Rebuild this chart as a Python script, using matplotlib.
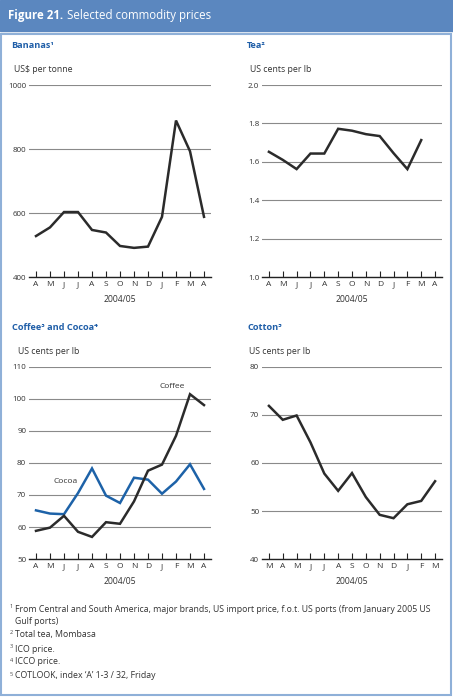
import matplotlib
matplotlib.use("Agg")
import matplotlib.pyplot as plt
from matplotlib.patches import Rectangle

plt.rcParams['font.family'] = ['Open Sans', 'DejaVu Sans']

# Дані
months_ban = ["A", "M", "J", "J", "A", "S", "O", "N", "D", "J", "F", "M", "A"]
bananas = [528, 555, 603, 603, 547, 539, 497, 491, 495, 588, 889, 793, 588]

months_tea = ["A", "M", "J", "J", "A", "S", "O", "N", "D", "J", "F", "M", "A"]
tea = [1.652, 1.61, 1.562, 1.643, 1.643, 1.772, 1.762, 1.744, 1.734, 1.645, 1.562, 1.713]

months_cof = ["A", "M", "J", "J", "A", "S", "O", "N", "D", "J", "F", "M", "A"]
coffee = [58.8, 59.8, 63.5, 58.5, 56.9, 61.5, 61.0, 68.0, 77.6, 79.5, 88.5, 101.5, 98.1]
cocoa = [65.2, 64.2, 64.0, 70.6, 78.3, 69.8, 67.5, 75.4, 74.8, 70.4, 74.2, 79.6, 71.9]

months_cot = ["M", "A", "M", "J", "J", "A", "S", "O", "N", "D", "J", "F", "M"]
cotton = [71.9, 69.0, 69.9, 64.3, 57.8, 54.2, 57.9, 52.9, 49.2, 48.5, 51.4, 52.1, 56.2]

footnotes = [
    ("1", "From Central and South America, major brands, US import price, f.o.t. US ports (from January 2005 US"),
    ("", "Gulf ports)"),
    ("2", "Total tea, Mombasa"),
    ("3", "ICO price."),
    ("4", "ICCO price."),
    ("5", "COTLOOK, index \u2018A\u2019 1-3 / 32, Friday"),
]

W, H = 453, 698
DARK = "#2b2b2b"
BLUE_LINE = "#1d62a8"
TITLE_BLUE = "#1f5ea8"
HEADER = "#5b87bf"
BORDER = "#8fb0d8"
TXT = "#333333"

fig = plt.figure(figsize=(W / 100, H / 100), dpi=100)


def fx(px):
    return px / W


def fy(py):
    return 1 - py / H


# Заголовок і рамка
fig.patches.append(Rectangle((0, fy(31)), 1, 31 / H, transform=fig.transFigure,
                             color=HEADER, zorder=0))
fig.patches.append(Rectangle((fx(1), fy(695)), fx(450), (695 - 33.5) / H,
                             transform=fig.transFigure, fill=False,
                             edgecolor=BORDER, linewidth=1.5, zorder=0))
fig.text(fx(8), fy(15), "Figure 21.", color="white", fontsize=8.3,
         fontweight="bold", va="center")
fig.text(fx(67), fy(15), "Selected commodity prices", color="white",
         fontsize=8.3, va="center")


def make_axes(left, right, top, bottom, ylim, yticks, ylabels, months):
    ax = fig.add_axes([fx(left), fy(bottom), fx(right - left), (bottom - top) / H])
    ax.set_ylim(*ylim)
    ax.set_xlim(-0.5, 12.5)
    ax.set_yticks(yticks)
    ax.set_yticklabels(ylabels)
    ax.set_xticks(range(len(months)))
    ax.set_xticklabels(months)
    for s in ["top", "right", "left"]:
        ax.spines[s].set_visible(False)
    ax.spines["bottom"].set_color("#222222")
    ax.spines["bottom"].set_linewidth(1.0)
    ax.tick_params(axis="y", length=0, pad=2, labelsize=5.8, colors=TXT)
    ax.tick_params(axis="x", direction="in", length=4, width=0.8,
                   color="#222222", pad=3, labelsize=6, labelcolor=TXT)
    ax.grid(axis="y", color="#8a8a8a", linewidth=0.8)
    ax.set_axisbelow(True)
    ax.set_xlabel("2004/05", fontsize=6.2, color=TXT, labelpad=5)
    ax.patch.set_alpha(0)
    return ax


# Банани
ax1 = make_axes(29, 211, 85, 277, (400, 1000), [400, 600, 800, 1000],
                ["400", "600", "800", "1000"], months_ban)
ax1.plot(range(len(bananas)), bananas, color=DARK, linewidth=1.8,
         solid_joinstyle="miter", clip_on=False)

# Чай
ax2 = make_axes(262, 442, 85, 277, (1.0, 2.0), [1.0, 1.2, 1.4, 1.6, 1.8, 2.0],
                ["1.0", "1.2", "1.4", "1.6", "1.8", "2.0"], months_tea)
ax2.plot(range(len(tea)), tea, color=DARK, linewidth=1.8,
         solid_joinstyle="miter", clip_on=False)

# Кава і какао
ax3 = make_axes(29, 211, 367, 559, (50, 110), [50, 60, 70, 80, 90, 100, 110],
                ["50", "60", "70", "80", "90", "100", "110"], months_cof)
ax3.plot(range(len(cocoa)), cocoa, color=BLUE_LINE, linewidth=1.8,
         solid_joinstyle="miter", clip_on=False)
ax3.plot(range(len(coffee)), coffee, color=DARK, linewidth=1.8,
         solid_joinstyle="miter", clip_on=False)
ax3.text(9.7, 103.8, "Coffee", fontsize=6, color=TXT, ha="center", va="center")
ax3.text(2.1, 74.3, "Cocoa", fontsize=6, color=TXT, ha="center", va="center")

# Бавовна
ax4 = make_axes(262, 442, 367, 559, (40, 80), [40, 50, 60, 70, 80],
                ["40", "50", "60", "70", "80"], months_cot)
ax4.plot(range(len(cotton)), cotton, color=DARK, linewidth=1.8,
         solid_joinstyle="miter", clip_on=False)

# Назви панелей та одиниці
title_kw = dict(fontsize=6.6, fontweight="bold", color=TITLE_BLUE, va="center")
unit_kw = dict(fontsize=6.3, color=TXT, va="center")
fig.text(fx(11), fy(45), "Bananas\u00b9", **title_kw)
fig.text(fx(247), fy(45), "Tea\u00b2", **title_kw)
fig.text(fx(12), fy(327), "Coffee\u00b3 and Cocoa\u2074", **title_kw)
fig.text(fx(247), fy(327), "Cotton\u2075", **title_kw)
fig.text(fx(14), fy(70), "US$ per tonne", **unit_kw)
fig.text(fx(250), fy(70), "US cents per lb", **unit_kw)
fig.text(fx(18), fy(352), "US cents per lb", **unit_kw)
fig.text(fx(249), fy(352), "US cents per lb", **unit_kw)

# Примітки
ys = [609, 621, 635, 649, 662, 676]
for (num, txt), y in zip(footnotes, ys):
    if num:
        fig.text(fx(10), fy(y - 2), num, fontsize=4, color="#444444", va="center")
    fig.text(fx(15), fy(y), txt, fontsize=6.3, color=TXT, va="center")

fig.savefig("out.png", dpi=100)
